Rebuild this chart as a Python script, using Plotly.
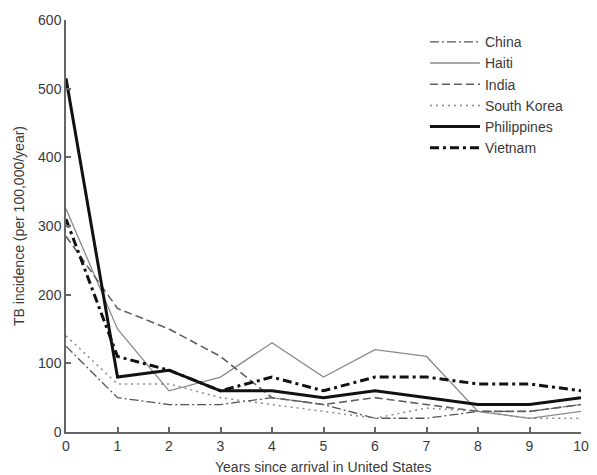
import plotly.graph_objects as go

years = [0, 1, 2, 3, 4, 5, 6, 7, 8, 9, 10]
china = [125, 50, 40, 40, 50, 40, 20, 20, 30, 30, 40]
haiti = [325, 150, 60, 80, 130, 80, 120, 110, 30, 20, 30]
india = [285, 180, 150, 110, 50, 40, 50, 40, 30, 30, 40]
south_korea = [140, 70, 70, 50, 40, 30, 20, 35, 30, 20, 20]
philippines = [515, 80, 90, 60, 60, 50, 60, 50, 40, 40, 50]
vietnam = [310, 110, 90, 60, 80, 60, 80, 80, 70, 70, 60]

x_title = "Years since arrival in United States"
y_title = "TB incidence (per 100,000/year)"

series = [
    ("China", china, dict(color="#555555", width=1.3, dash="9px,3px,2px,3px")),
    ("Haiti", haiti, dict(color="#8a8a8a", width=1.3, dash="solid")),
    ("India", india, dict(color="#606060", width=1.6, dash="8px,4px")),
    ("South Korea", south_korea, dict(color="#8a8a8a", width=1.5, dash="2px,4px")),
    ("Philippines", philippines, dict(color="#111111", width=3, dash="solid")),
    ("Vietnam", vietnam, dict(color="#111111", width=3, dash="9px,4px,3px,4px")),
]

fig = go.Figure()
for name, vals, ln in series:
    fig.add_trace(go.Scatter(x=years, y=vals, mode="lines", name=name, line=ln))

axis_common = dict(
    showline=True, linecolor="#666666", linewidth=1.5, mirror=False,
    ticks="inside", ticklen=5, tickcolor="#666666", tickwidth=1.5,
    showgrid=False, zeroline=False,
    tickfont=dict(size=14, color="#3a3a3a"),
)

fig.update_layout(
    width=597, height=475,
    margin=dict(l=66, r=8, t=20, b=43),
    paper_bgcolor="white", plot_bgcolor="white",
    font=dict(family="Liberation Sans, Arial, sans-serif", size=14, color="#3a3a3a"),
    showlegend=True,
    legend=dict(
        x=0.697, y=0.985, xanchor="left", yanchor="top",
        bgcolor="rgba(0,0,0,0)", itemwidth=50,
        font=dict(size=14, color="#3a3a3a"), tracegroupgap=0,
    ),
    xaxis=dict(range=[0, 10], dtick=1, tick0=0, **axis_common),
    yaxis=dict(range=[0, 600], dtick=100, tick0=0,
               title=dict(text=y_title, standoff=10,
                          font=dict(size=14, color="#3a3a3a")),
               **axis_common),
    annotations=[dict(text=x_title, xref="paper", yref="paper", x=0.5, y=-0.085,
                      xanchor="center", yanchor="middle", showarrow=False,
                      font=dict(size=14, color="#3a3a3a"))],
)

fig.write_html("out.html", config={"displayModeBar": False},
               post_script="document.body.style.margin='0';")
